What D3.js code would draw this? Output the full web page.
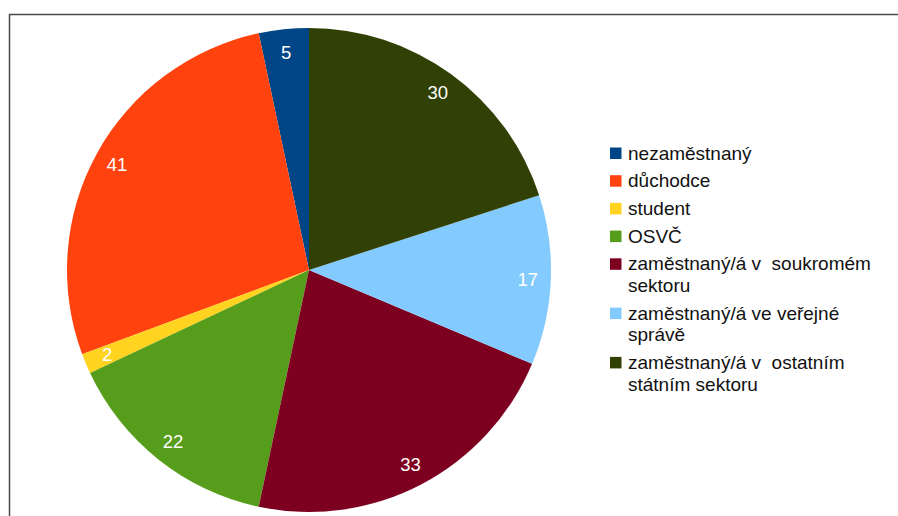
<!DOCTYPE html>
<html>
<head>
<meta charset="UTF-8">
<script src="https://d3js.org/d3.v7.min.js"></script>
<style>
  body { margin: 0; background: #fff; }
  text { font-family: "Liberation Sans", Arial, sans-serif; white-space: pre; }
</style>
</head>
<body>
<svg width="898" height="516"></svg>
<script>
// data (legend order)
var categories = ["nezaměstnaný", "důchodce", "student", "OSVČ",
  "zaměstnaný/á v  soukromém sektoru", "zaměstnaný/á ve veřejné správě",
  "zaměstnaný/á v  ostatním státním sektoru"];
var legendLines = [["nezaměstnaný"], ["důchodce"], ["student"], ["OSVČ"],
  ["zaměstnaný/á v  soukromém", "sektoru"],
  ["zaměstnaný/á ve veřejné", "správě"],
  ["zaměstnaný/á v  ostatním", "státním sektoru"]];
var values = [5, 41, 2, 22, 33, 17, 30];
var colors = ["#004586", "#ff420e", "#ffd320", "#579d1c", "#7e0021", "#83caff", "#314004"];

var svg = d3.select("svg");

// outer frame
svg.append("rect")
    .attr("x", 9.5).attr("y", 14.5)
    .attr("width", 900).attr("height", 520)
    .attr("fill", "none")
    .attr("stroke", "#4a4a4a")
    .attr("stroke-width", 1.5);

var cx = 309, cy = 270, R = 242;

var data = categories.map(function(c, i) { return {name: c, value: values[i], color: colors[i]}; });

// slices go counter-clockwise from 12 o'clock
var pie = d3.pie()
    .sort(null)
    .value(function(d) { return d.value; })
    .startAngle(2 * Math.PI)
    .endAngle(0);

var arc = d3.arc().innerRadius(0).outerRadius(R);
var labelArc = d3.arc().innerRadius(219).outerRadius(219);

var g = svg.append("g").attr("transform", "translate(" + cx + "," + cy + ")");

var slices = g.selectAll("g.slice")
  .data(pie(data))
  .enter().append("g")
    .attr("class", "slice");

slices.append("path")
    .attr("d", arc)
    .attr("fill", function(d) { return d.data.color; });

slices.append("text")
    .attr("transform", function(d) { return "translate(" + labelArc.centroid(d) + ")"; })
    .attr("text-anchor", "middle")
    .attr("dy", "0.35em")
    .attr("fill", "#fff")
    .attr("font-size", 18.5)
    .text(function(d) { return d.data.value; });

// legend
var legend = svg.append("g").attr("transform", "translate(610,0)");
var y = 153;
legendLines.forEach(function(lines, i) {
  var item = legend.append("g").attr("transform", "translate(0," + y + ")");
  item.append("rect")
      .attr("x", 0).attr("y", -5.5)
      .attr("width", 11.5).attr("height", 11.5)
      .attr("fill", colors[i]);
  item.append("text")
      .attr("x", 18)
      .attr("font-size", 19)
      .attr("fill", "#111")
    .selectAll("tspan")
    .data(lines)
    .enter().append("tspan")
      .attr("x", 18)
      .attr("y", function(d, j) { return j * 21.6; })
      .attr("dy", "0.35em")
      .text(function(d) { return d; });
  y += 27.7 + (lines.length - 1) * 21.6;
});
</script>
</body>
</html>
